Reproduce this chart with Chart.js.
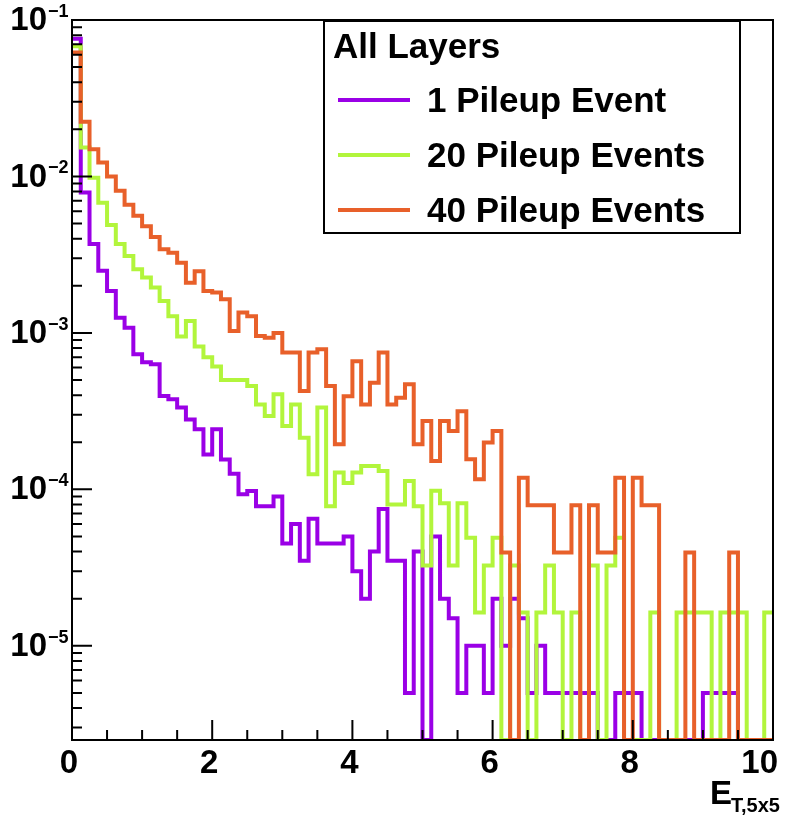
<!DOCTYPE html>
<html>
<head>
<meta charset="utf-8">
<script src="https://cdn.jsdelivr.net/npm/chart.js@4.4.0/dist/chart.umd.min.js"></script>
<style>
  html, body { margin: 0; padding: 0; background: #fff; }
</style>
</head>
<body>
<canvas id="etChart" width="789" height="817"></canvas>
<script>
// histogram binning and axis ranges
const binWidth = 0.125;
const xRange = [0, 10];
const yRange = [2.5e-6, 0.1];
const xMajorTicks = [0, 2, 4, 6, 8, 10];
const yDecades = [1e-5, 1e-4, 1e-3, 1e-2, 1e-1];
const yDecadeExp = ['\u22125', '\u22124', '\u22123', '\u22122', '\u22121'];

const legendTitle = 'All Layers';
const seriesNames = ['1 Pileup Event', '20 Pileup Events', '40 Pileup Events'];
const seriesColors = ['#9a00e6', '#b2f53c', '#e8602a'];

// bin contents, one value per bin of E_T (0 = empty bin)
const onePileup = [
  7.6e-2, 7.9e-3, 3.7e-3, 2.5e-3, 1.85e-3, 1.25e-3, 1.08e-3, 7.3e-4, 6.5e-4, 6.3e-4,
  3.95e-4, 3.76e-4, 3.33e-4, 2.8e-4, 2.42e-4, 1.67e-4, 2.42e-4, 1.55e-4, 1.26e-4, 9.3e-5,
  9.75e-5, 7.8e-5, 7.8e-5, 9.0e-5, 4.5e-5, 6.0e-5, 3.5e-5, 6.5e-5, 4.5e-5, 4.5e-5,
  4.5e-5, 5.0e-5, 3.0e-5, 2.0e-5, 4.0e-5, 7.5e-5, 3.5e-5, 3.5e-5, 5e-6, 4.0e-5,
  0, 5.0e-5, 2.0e-5, 1.5e-5, 5e-6, 1.0e-5, 1.0e-5, 5e-6, 2.0e-5, 1.0e-5,
  2.0e-5, 1.5e-5, 5e-6, 1.0e-5, 5e-6, 5e-6, 5e-6, 5e-6, 5e-6, 5e-6,
  0, 0, 5e-6, 5e-6, 5e-6, 0, 0, 0, 0, 0,
  0, 0, 5e-6, 5e-6, 5e-6, 5e-6, 0, 0, 0, 0
];
const twentyPileup = [
  6.8e-2, 1.53e-2, 9.8e-3, 6.8e-3, 4.9e-3, 3.7e-3, 3.1e-3, 2.55e-3, 2.26e-3, 1.95e-3,
  1.6e-3, 1.28e-3, 9.5e-4, 1.19e-3, 8.2e-4, 7.0e-4, 6.1e-4, 5.0e-4, 5.0e-4, 5.0e-4,
  4.57e-4, 3.49e-4, 2.94e-4, 4.05e-4, 2.54e-4, 3.49e-4, 2.14e-4, 1.25e-4, 3.33e-4, 7.8e-5,
  1.28e-4, 1.1e-4, 1.28e-4, 1.41e-4, 1.41e-4, 1.31e-4, 8.0e-5, 8.0e-5, 1.13e-4, 7.8e-5,
  3.26e-5, 9.8e-5, 8.15e-5, 3.26e-5, 8.15e-5, 4.9e-5, 1.63e-5, 3.26e-5, 4.9e-5, 0,
  3.26e-5, 1.63e-5, 0, 1.63e-5, 3.26e-5, 1.63e-5, 0, 1.63e-5, 0, 3.26e-5,
  0, 3.26e-5, 4.9e-5, 0, 0, 0, 1.63e-5, 0, 0, 1.63e-5,
  1.63e-5, 1.63e-5, 1.63e-5, 0, 1.63e-5, 1.63e-5, 1.63e-5, 0, 0, 1.63e-5
];
const fortyPileup = [
  6.2e-2, 2.24e-2, 1.49e-2, 1.23e-2, 1.0e-2, 8.1e-3, 6.6e-3, 5.6e-3, 4.8e-3, 4.1e-3,
  3.42e-3, 3.25e-3, 2.81e-3, 2.09e-3, 2.48e-3, 1.85e-3, 1.81e-3, 1.64e-3, 1.03e-3, 1.35e-3,
  1.28e-3, 9.55e-4, 9.3e-4, 1.0e-3, 7.5e-4, 7.5e-4, 4.25e-4, 7.5e-4, 7.85e-4, 4.57e-4,
  1.94e-4, 3.94e-4, 6.6e-4, 3.49e-4, 4.81e-4, 7.5e-4, 3.49e-4, 3.85e-4, 4.69e-4, 1.94e-4,
  2.73e-4, 1.52e-4, 2.73e-4, 2.36e-4, 3.16e-4, 1.56e-4, 1.16e-4, 1.99e-4, 2.36e-4, 3.95e-5,
  0, 1.185e-4, 7.9e-5, 7.9e-5, 7.9e-5, 3.95e-5, 3.95e-5, 7.9e-5, 0, 7.9e-5,
  3.95e-5, 3.95e-5, 1.185e-4, 0, 1.185e-4, 7.9e-5, 7.9e-5, 0, 0, 0,
  3.95e-5, 0, 0, 0, 0, 3.95e-5, 0, 0, 0, 0
];

const FONT = '"Liberation Sans", Arial, Helvetica, sans-serif';

// turn bin contents into step points (left edge of each bin + closing edge);
// empty bins sit on the bottom of the log axis like ROOT draws them
function histPoints(values) {
  const pts = values.map((v, i) => ({ x: i * binWidth, y: v > 0 ? v : yRange[0] }));
  const last = pts[pts.length - 1].y;
  pts.push({ x: values.length * binWidth, y: last });
  return pts;
}

const allSeries = [onePileup, twentyPileup, fortyPileup];

const datasets = allSeries.map((vals, i) => ({
  label: seriesNames[i],
  data: histPoints(vals),
  borderColor: seriesColors[i],
  backgroundColor: seriesColors[i],
  borderWidth: 4,
  stepped: true,
  pointRadius: 0,
  fill: false,
  borderJoinStyle: 'miter',
  order: allSeries.length - 1 - i
}));

// frame, inward ticks, axis labels, legend box and axis title, ROOT style
const rootFrame = {
  id: 'rootFrame',
  afterDatasetsDraw(chart) {
    const { ctx, chartArea: a, scales: { x, y } } = chart;
    ctx.save();
    ctx.strokeStyle = '#000';
    ctx.fillStyle = '#000';
    ctx.lineWidth = 2;

    ctx.beginPath();
    for (let k = 0; k <= 20; k++) {
      const v = k * 0.5;
      const px = x.getPixelForValue(v);
      const len = xMajorTicks.includes(v) ? 20 : 10;
      ctx.moveTo(px, a.bottom);
      ctx.lineTo(px, a.bottom - len);
    }
    for (let e = -6; e <= -1; e++) {
      for (let m = 1; m <= 9; m++) {
        const v = m * Math.pow(10, e);
        if (v < yRange[0] || v > yRange[1] * 1.0001) continue;
        const py = y.getPixelForValue(v);
        ctx.moveTo(a.left, py);
        ctx.lineTo(a.left + (m === 1 ? 20 : 10), py);
      }
    }
    ctx.stroke();
    ctx.strokeRect(a.left, a.top, a.right - a.left, a.bottom - a.top);

    // y tick labels 10^n
    yDecades.forEach((v, i) => {
      const py = y.getPixelForValue(v);
      ctx.font = 'bold 33px ' + FONT;
      ctx.textAlign = 'right';
      ctx.textBaseline = 'middle';
      ctx.fillText('10', a.left - 25, py + 1);
      ctx.font = 'bold 18px ' + FONT;
      ctx.textAlign = 'left';
      ctx.textBaseline = 'alphabetic';
      ctx.fillText(yDecadeExp[i], a.left - 24, py - 3);
    });

    // x tick labels, kept inside the canvas at the right end
    ctx.font = 'bold 33px ' + FONT;
    ctx.textAlign = 'center';
    ctx.textBaseline = 'alphabetic';
    xMajorTicks.forEach(v => {
      const txt = String(v);
      const w = ctx.measureText(txt).width;
      let cx = x.getPixelForValue(v) - 3;
      cx = Math.min(cx, a.right + 5 - w / 2);
      ctx.fillText(txt, cx, a.bottom + 33);
    });

    // legend
    const lx = 324, ly = 21, lw = 416, lh = 212;
    ctx.fillStyle = '#fff';
    ctx.fillRect(lx, ly, lw, lh);
    ctx.strokeRect(lx, ly, lw, lh);
    ctx.fillStyle = '#000';
    ctx.font = 'bold 35px ' + FONT;
    ctx.textAlign = 'left';
    ctx.textBaseline = 'alphabetic';
    ctx.fillText(legendTitle, lx + 9, ly + 37);
    chart.data.datasets.forEach((ds, i) => {
      const cy = ly + 79 + i * 55;
      ctx.strokeStyle = ds.borderColor;
      ctx.lineWidth = 4;
      ctx.beginPath();
      ctx.moveTo(lx + 14, cy);
      ctx.lineTo(lx + 86, cy);
      ctx.stroke();
      ctx.fillStyle = '#000';
      ctx.fillText(ds.label, lx + 103, cy + 12);
    });

    // x axis title E_{T,5x5}
    ctx.font = 'bold 33px ' + FONT;
    ctx.fillText('E', 710, 804);
    ctx.font = 'bold 20px ' + FONT;
    ctx.fillText('T,5x5', 731, 812);
    ctx.restore();
  }
};

new Chart(document.getElementById('etChart'), {
  type: 'line',
  data: { datasets: datasets },
  options: {
    responsive: false,
    animation: false,
    layout: { padding: { top: 20, right: 16, left: 0, bottom: 0 } },
    plugins: {
      legend: { display: false },
      tooltip: { enabled: false }
    },
    scales: {
      x: {
        type: 'linear',
        min: xRange[0],
        max: xRange[1],
        grid: { display: false, drawTicks: false },
        border: { display: false },
        ticks: { display: false },
        afterFit(s) { s.height = 77; s.paddingLeft = 0; s.paddingRight = 0; }
      },
      y: {
        type: 'logarithmic',
        min: yRange[0],
        max: yRange[1],
        grid: { display: false, drawTicks: false },
        border: { display: false },
        ticks: { display: false },
        afterFit(s) { s.width = 72; }
      }
    }
  },
  plugins: [rootFrame]
});
</script>
</body>
</html>
